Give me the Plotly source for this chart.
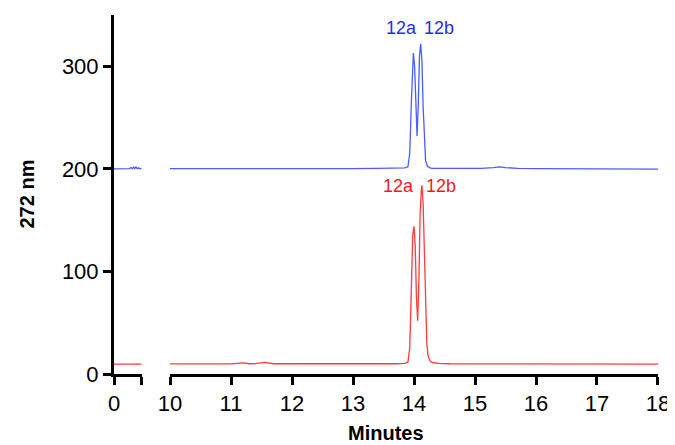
import plotly.graph_objects as go

# ---- data ----
# segment 1 (0 - 0.5 min)
seg1_time = [0.0, 0.05, 0.1, 0.15, 0.2, 0.25, 0.28, 0.3, 0.32, 0.34, 0.36, 0.38, 0.4, 0.42, 0.45]
blue_seg1 = [200.0, 200.1, 200.0, 200.2, 200.0, 200.3, 201.2, 200.1, 201.8, 200.2, 202.0, 200.3, 201.0, 200.2, 200.1]
red_seg1 = [9.6, 9.7, 9.6, 9.7, 9.6, 9.8, 10.0, 9.7, 10.2, 9.7, 10.0, 9.7, 9.8, 9.7, 9.7]

# segment 2 (10 - 18 min)
blue_time = [10.0, 10.5, 11.0, 11.5, 12.0, 12.5, 13.0, 13.4, 13.7, 13.85, 13.9, 13.93, 13.96, 13.98,
             13.99, 14.01, 14.03, 14.05, 14.07, 14.09, 14.11, 14.13, 14.15, 14.17, 14.19, 14.22,
             14.26, 14.3, 14.5, 14.8, 15.1, 15.3, 15.4, 15.5, 15.7, 16.0, 16.5, 17.0, 17.5, 18.0]
blue_vals = [200.2, 200.1, 200.2, 200.1, 200.0, 200.2, 200.3, 200.4, 200.6, 200.9, 202.0, 215.0, 270.0, 308.0,
             313.0, 300.0, 255.0, 232.0, 262.0, 310.0, 322.0, 305.0, 260.0, 225.0, 208.0, 202.5,
             201.0, 200.5, 200.3, 200.2, 200.4, 201.2, 202.0, 201.2, 200.5, 200.2, 200.0, 199.9, 199.8, 199.8]

red_time = [10.0, 10.5, 11.0, 11.2, 11.3, 11.4, 11.55, 11.7, 12.0, 12.5, 13.0, 13.4, 13.7, 13.85, 13.9,
            13.93, 13.96, 13.98, 14.0, 14.02, 14.04, 14.06, 14.08, 14.1, 14.12, 14.13, 14.15, 14.17,
            14.19, 14.21, 14.23, 14.26, 14.3, 14.4, 14.6, 15.0, 15.5, 16.0, 16.5, 17.0, 17.5, 18.0]
red_vals = [9.8, 9.8, 9.9, 10.8, 10.0, 10.2, 11.3, 10.0, 9.9, 9.8, 9.8, 9.9, 10.0, 10.3, 11.5,
            25.0, 90.0, 136.0, 144.0, 125.0, 75.0, 52.0, 90.0, 155.0, 180.0, 184.0, 165.0, 110.0,
            60.0, 30.0, 18.0, 13.0, 11.2, 10.3, 10.0, 9.9, 9.8, 9.7, 9.6, 9.8, 9.7, 9.6]

y_ticks = [0, 100, 200, 300]
x2_ticks = [10, 11, 12, 13, 14, 15, 16, 17, 18]

BLUE_LINE = "#4a5cff"
RED_LINE = "#ff3b3b"
BLUE_TEXT = "#1f2ee6"
RED_TEXT = "#f01a1a"
FONT = "Liberation Sans, Arial, sans-serif"

fig = go.Figure()
fig.add_trace(go.Scatter(x=seg1_time, y=blue_seg1, xaxis="x", yaxis="y", mode="lines",
                         line=dict(color=BLUE_LINE, width=1.3), showlegend=False))
fig.add_trace(go.Scatter(x=seg1_time, y=red_seg1, xaxis="x", yaxis="y", mode="lines",
                         line=dict(color=RED_LINE, width=1.3), showlegend=False))
fig.add_trace(go.Scatter(x=blue_time, y=blue_vals, xaxis="x2", yaxis="y", mode="lines",
                         line=dict(color=BLUE_LINE, width=1.3), showlegend=False))
fig.add_trace(go.Scatter(x=red_time, y=red_vals, xaxis="x2", yaxis="y", mode="lines",
                         line=dict(color=RED_LINE, width=1.3), showlegend=False))

# page body has an 8px margin, so the figure is offset by 8px
OFF = 8
W, H = 675 - OFF, 445 - OFF
L, T = 114 - OFF, 15 - OFF
R = W - (658 - OFF)
B = H - (374 - OFF)
pw = W - L - R
ph = H - T - B

axis_common = dict(showline=True, linecolor="black", linewidth=3, ticks="outside",
                   ticklen=8, tickwidth=3, tickcolor="black", showgrid=False, zeroline=False,
                   automargin=False,
                   tickfont=dict(family=FONT, size=22, color="black"))

fig.update_layout(
    width=W, height=H,
    margin=dict(l=L, r=R, t=T, b=B, autoexpand=False),
    paper_bgcolor="white", plot_bgcolor="white",
    xaxis=dict(domain=[0, 28 / pw], range=[0, 0.4601], tickvals=[0, 0.46], ticktext=["0", ""],
               anchor="y", **axis_common),
    xaxis2=dict(domain=[56 / pw, 1], range=[10, 18.0001], tickvals=x2_ticks,
                ticktext=[str(t) for t in x2_ticks], anchor="y", **axis_common),
    yaxis=dict(domain=[0, 1], range=[0, 350], tickvals=y_ticks,
               ticktext=[str(t) for t in y_ticks], anchor="x", **axis_common),
)

fig.add_annotation(text="<b>Minutes</b>", xref="paper", yref="paper",
                   x=(386 - 114) / pw, y=-(433 - 374) / ph, showarrow=False,
                   font=dict(family=FONT, size=20, color="black"), xanchor="center", yanchor="middle")
fig.add_annotation(text="<b>272 nm</b>", xref="paper", yref="paper",
                   x=(26 - 114) / pw, y=0.5, showarrow=False, textangle=-90,
                   font=dict(family=FONT, size=20, color="black"), xanchor="center", yanchor="middle")

peak_labels = [("12a", 13.80, 337, BLUE_TEXT), ("12b", 14.41, 337, BLUE_TEXT),
               ("12a", 13.74, 183, RED_TEXT), ("12b", 14.45, 183, RED_TEXT)]
for txt, px, py, col in peak_labels:
    fig.add_annotation(text=txt, x=px, y=py, xref="x2", yref="y", showarrow=False,
                       font=dict(family=FONT, size=18, color=col), xanchor="center", yanchor="middle")

fig.write_html("out.html")
